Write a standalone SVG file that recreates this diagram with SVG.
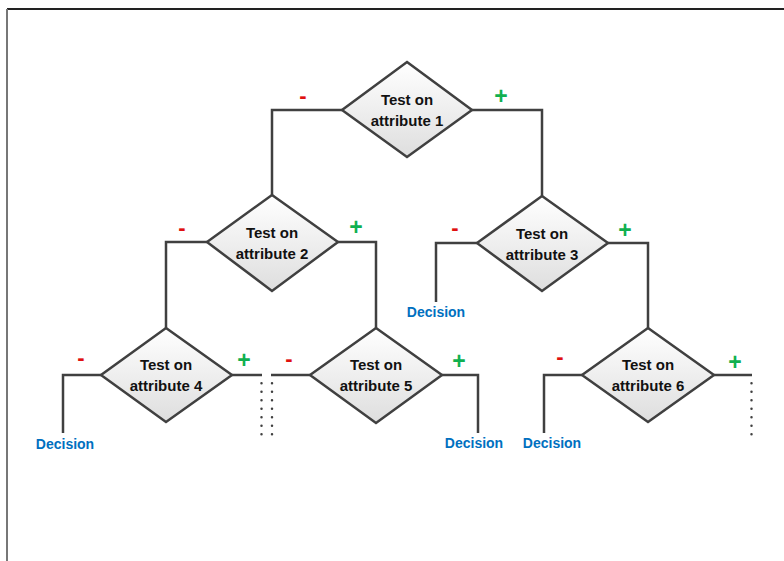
<svg xmlns="http://www.w3.org/2000/svg" width="784" height="561" viewBox="0 0 784 561">
<style>
.ln{fill:none;stroke:#404040;stroke-width:2.5}
.dot{fill:none;stroke:#404040;stroke-width:2.5;stroke-linecap:round;stroke-dasharray:0 8.5}
.dm{fill:url(#g);stroke:#404040;stroke-width:2.5;stroke-linejoin:miter}
.t{font-family:"Liberation Sans",Arial,sans-serif;font-weight:bold;font-size:15px;fill:#111;text-anchor:middle}
.dc{font-family:"Liberation Sans",Arial,sans-serif;font-weight:bold;font-size:14px;fill:#0070C0;text-anchor:middle}
.mn{font-family:"Liberation Sans",Arial,sans-serif;font-weight:bold;font-size:22px;fill:#E01010;text-anchor:middle}
.pl{font-family:"Liberation Sans",Arial,sans-serif;font-weight:bold;font-size:23px;fill:#10B050;text-anchor:middle}
</style>
<defs>
<linearGradient id="g" x1="0" y1="0" x2="0" y2="1">
<stop offset="0" stop-color="#ffffff"/>
<stop offset="1" stop-color="#dedede"/>
</linearGradient>
</defs>
<rect x="0" y="0" width="784" height="561" fill="#ffffff"/>
<line x1="7" y1="9" x2="784" y2="9" stroke="#222" stroke-width="2"/>
<line x1="7" y1="9" x2="7" y2="561" stroke="#777" stroke-width="2"/>
<g id="connectors">
<polyline class="ln" points="342,110 272,110 272,195"/>
<polyline class="ln" points="472,110 542,110 542,196"/>
<polyline class="ln" points="207,242 166,242 166,328"/>
<polyline class="ln" points="338,242 376,242 376,328"/>
<polyline class="ln" points="477,243 436,243 436,302"/>
<polyline class="ln" points="608,243 648,243 648,328"/>
<polyline class="ln" points="101,375 63,375 63,433"/>
<polyline class="ln" points="232,375 262,375"/>
<polyline class="ln" points="310,375 271,375"/>
<polyline class="ln" points="442,375 478,375 478,433"/>
<polyline class="ln" points="582,375 544,375 544,433"/>
<polyline class="ln" points="714,375 752,375"/>
<line class="dot" x1="261.5" y1="383.3" x2="261.5" y2="435"/>
<line class="dot" x1="272" y1="383.3" x2="272" y2="435"/>
<line class="dot" x1="751.5" y1="383.3" x2="751.5" y2="435"/>
<text class="mn" x="303" y="103">-</text>
<text class="pl" x="501" y="104">+</text>
<text class="mn" x="182" y="235">-</text>
<text class="pl" x="356" y="235">+</text>
<text class="mn" x="455" y="235">-</text>
<text class="pl" x="625" y="238">+</text>
<text class="mn" x="81" y="365">-</text>
<text class="pl" x="244" y="368">+</text>
<text class="mn" x="289" y="366">-</text>
<text class="pl" x="459" y="369">+</text>
<text class="mn" x="560" y="364">-</text>
<text class="pl" x="735" y="370">+</text>
</g>
<g id="n1"><polygon class="dm" points="407,62 472,110 407,157 342,110"/><text class="t" x="407" y="105">Test on</text><text class="t" x="407" y="126">attribute 1</text></g>
<g id="n2"><polygon class="dm" points="272,195 338,242 272,291 207,242"/><text class="t" x="272" y="238">Test on</text><text class="t" x="272" y="259">attribute 2</text></g>
<g id="n3"><polygon class="dm" points="542,196 608,243 542,291 477,243"/><text class="t" x="542" y="239">Test on</text><text class="t" x="542" y="260">attribute 3</text></g>
<g id="n4"><polygon class="dm" points="166,328 232,375 166,422 101,375"/><text class="t" x="166" y="370">Test on</text><text class="t" x="166" y="391">attribute 4</text></g>
<g id="n5"><polygon class="dm" points="376,328 442,375 376,423 310,375"/><text class="t" x="376" y="370">Test on</text><text class="t" x="376" y="391">attribute 5</text></g>
<g id="n6"><polygon class="dm" points="648,328 714,375 648,422 582,375"/><text class="t" x="648" y="370">Test on</text><text class="t" x="648" y="391">attribute 6</text></g>
<g id="d3"><text class="dc" x="436" y="317">Decision</text></g>
<g id="d4"><text class="dc" x="65" y="449">Decision</text></g>
<g id="d5"><text class="dc" x="474" y="448">Decision</text></g>
<g id="d6"><text class="dc" x="552" y="448">Decision</text></g>
</svg>
